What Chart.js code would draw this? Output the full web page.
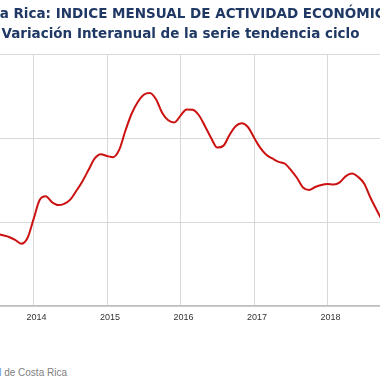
<!DOCTYPE html>
<html>
<head>
<meta charset="utf-8">
<script src="https://cdn.jsdelivr.net/npm/chart.js@4.4.0/dist/chart.umd.min.js"></script>
<style>
  html, body { margin: 0; padding: 0; background: #fff; overflow: hidden; width: 380px; height: 380px; }
  #wrap { position: absolute; left: -40px; top: 0; width: 441px; height: 329px; }
  #source { position: absolute; right: 313px; top: 367px; white-space: nowrap;
            font: 10px "Liberation Sans", Arial, sans-serif; color: #808080; }
  #source span { color: #5B9BD5; }
</style>
</head>
<body>
<div id="wrap"><canvas id="c"></canvas></div>
<div id="source">Fuente: <span>Banco Central</span> de Costa Rica</div>
<script>
// Month labels (YYYY-MM) and trend-cycle year-on-year variation (%)
const months = [
  "2013-07","2013-08","2013-09","2013-10","2013-11","2013-12",
  "2014-01","2014-02","2014-03","2014-04","2014-05","2014-06","2014-07","2014-08","2014-09","2014-10","2014-11","2014-12",
  "2015-01","2015-02","2015-03","2015-04","2015-05","2015-06","2015-07","2015-08","2015-09","2015-10","2015-11","2015-12",
  "2016-01","2016-02","2016-03","2016-04","2016-05","2016-06","2016-07","2016-08","2016-09","2016-10","2016-11","2016-12",
  "2017-01","2017-02","2017-03","2017-04","2017-05","2017-06","2017-07","2017-08","2017-09","2017-10","2017-11","2017-12",
  "2018-01","2018-02","2018-03","2018-04","2018-05","2018-06","2018-07","2018-08","2018-09","2018-10"
];
const variacion = [
  1.73, 1.69, 1.65, 1.58, 1.49, 1.62,
  2.07, 2.53, 2.62, 2.48, 2.41, 2.44, 2.54, 2.75, 2.98, 3.25, 3.52, 3.62,
  3.58, 3.55, 3.73, 4.18, 4.58, 4.86, 5.04, 5.08, 4.93, 4.61, 4.43, 4.38,
  4.54, 4.69, 4.68, 4.55, 4.29, 4.01, 3.78, 3.82, 4.08, 4.29, 4.36, 4.27,
  4.02, 3.78, 3.61, 3.52, 3.44, 3.40, 3.25, 3.06, 2.83, 2.77, 2.84, 2.89,
  2.91, 2.90, 2.95, 3.10, 3.16, 3.08, 2.92, 2.59, 2.30, 2.02
];
const yearTicks = ["2013","2014","2015","2016","2017","2018","2019"];
const titleText = "Costa Rica: INDICE MENSUAL DE ACTIVIDAD ECONÓMICA";
const subtitleText = "Variación Interanual de la serie tendencia ciclo";

const baseYear = 2014;
function monthIndex(s) { const [y, m] = s.split("-").map(Number); return (y - baseYear) * 12 + (m - 1); }
const points = months.map((m, i) => ({ x: monthIndex(m), y: variacion[i] }));
const navy = "#1F3864";
const xMin = monthIndex(yearTicks[0] + "-01");
const xMax = monthIndex(yearTicks[yearTicks.length - 1] + "-01");

new Chart(document.getElementById("c"), {
  type: "line",
  data: { datasets: [{
    data: points, borderColor: "#CC1111", borderWidth: 2, pointRadius: 0,
    tension: 0.4, cubicInterpolationMode: "monotone", fill: false
  }]},
  options: {
    responsive: true, maintainAspectRatio: false, animation: false,
    layout: { padding: 0 },
    plugins: {
      legend: { display: false }, tooltip: { enabled: false },
      title: { display: true, text: titleText, color: navy,
               font: { family: "'DejaVu Sans', sans-serif", size: 13.5, weight: "bold" },
               padding: { top: 6, bottom: 0 } },
      subtitle: { display: true, text: subtitleText, color: navy,
               font: { family: "'DejaVu Sans', sans-serif", size: 13.5, weight: "bold" },
               padding: { top: 4, bottom: 12 } }
    },
    scales: {
      x: { type: "linear", min: xMin, max: xMax,
           afterFit: s => { s.paddingLeft = 0; s.paddingRight = 0; },
           grid: { color: "#d9d9d9", drawTicks: false },
           border: { color: "#bfbfbf", width: 1.5 },
           ticks: { stepSize: 12, padding: 6, labelOffset: 3, color: "#333333", maxRotation: 0,
                    font: { family: "'Liberation Sans', Arial, sans-serif", size: 9 },
                    callback: v => (v === xMin || v === xMax) ? "" : String(baseYear + v / 12) } },
      y: { min: 0, max: 6,
           afterFit: s => { s.width = 0; },
           grid: { color: "#d9d9d9", drawTicks: false },
           border: { display: false },
           ticks: { stepSize: 2, display: false } }
    }
  }
});
</script>
</body>
</html>
